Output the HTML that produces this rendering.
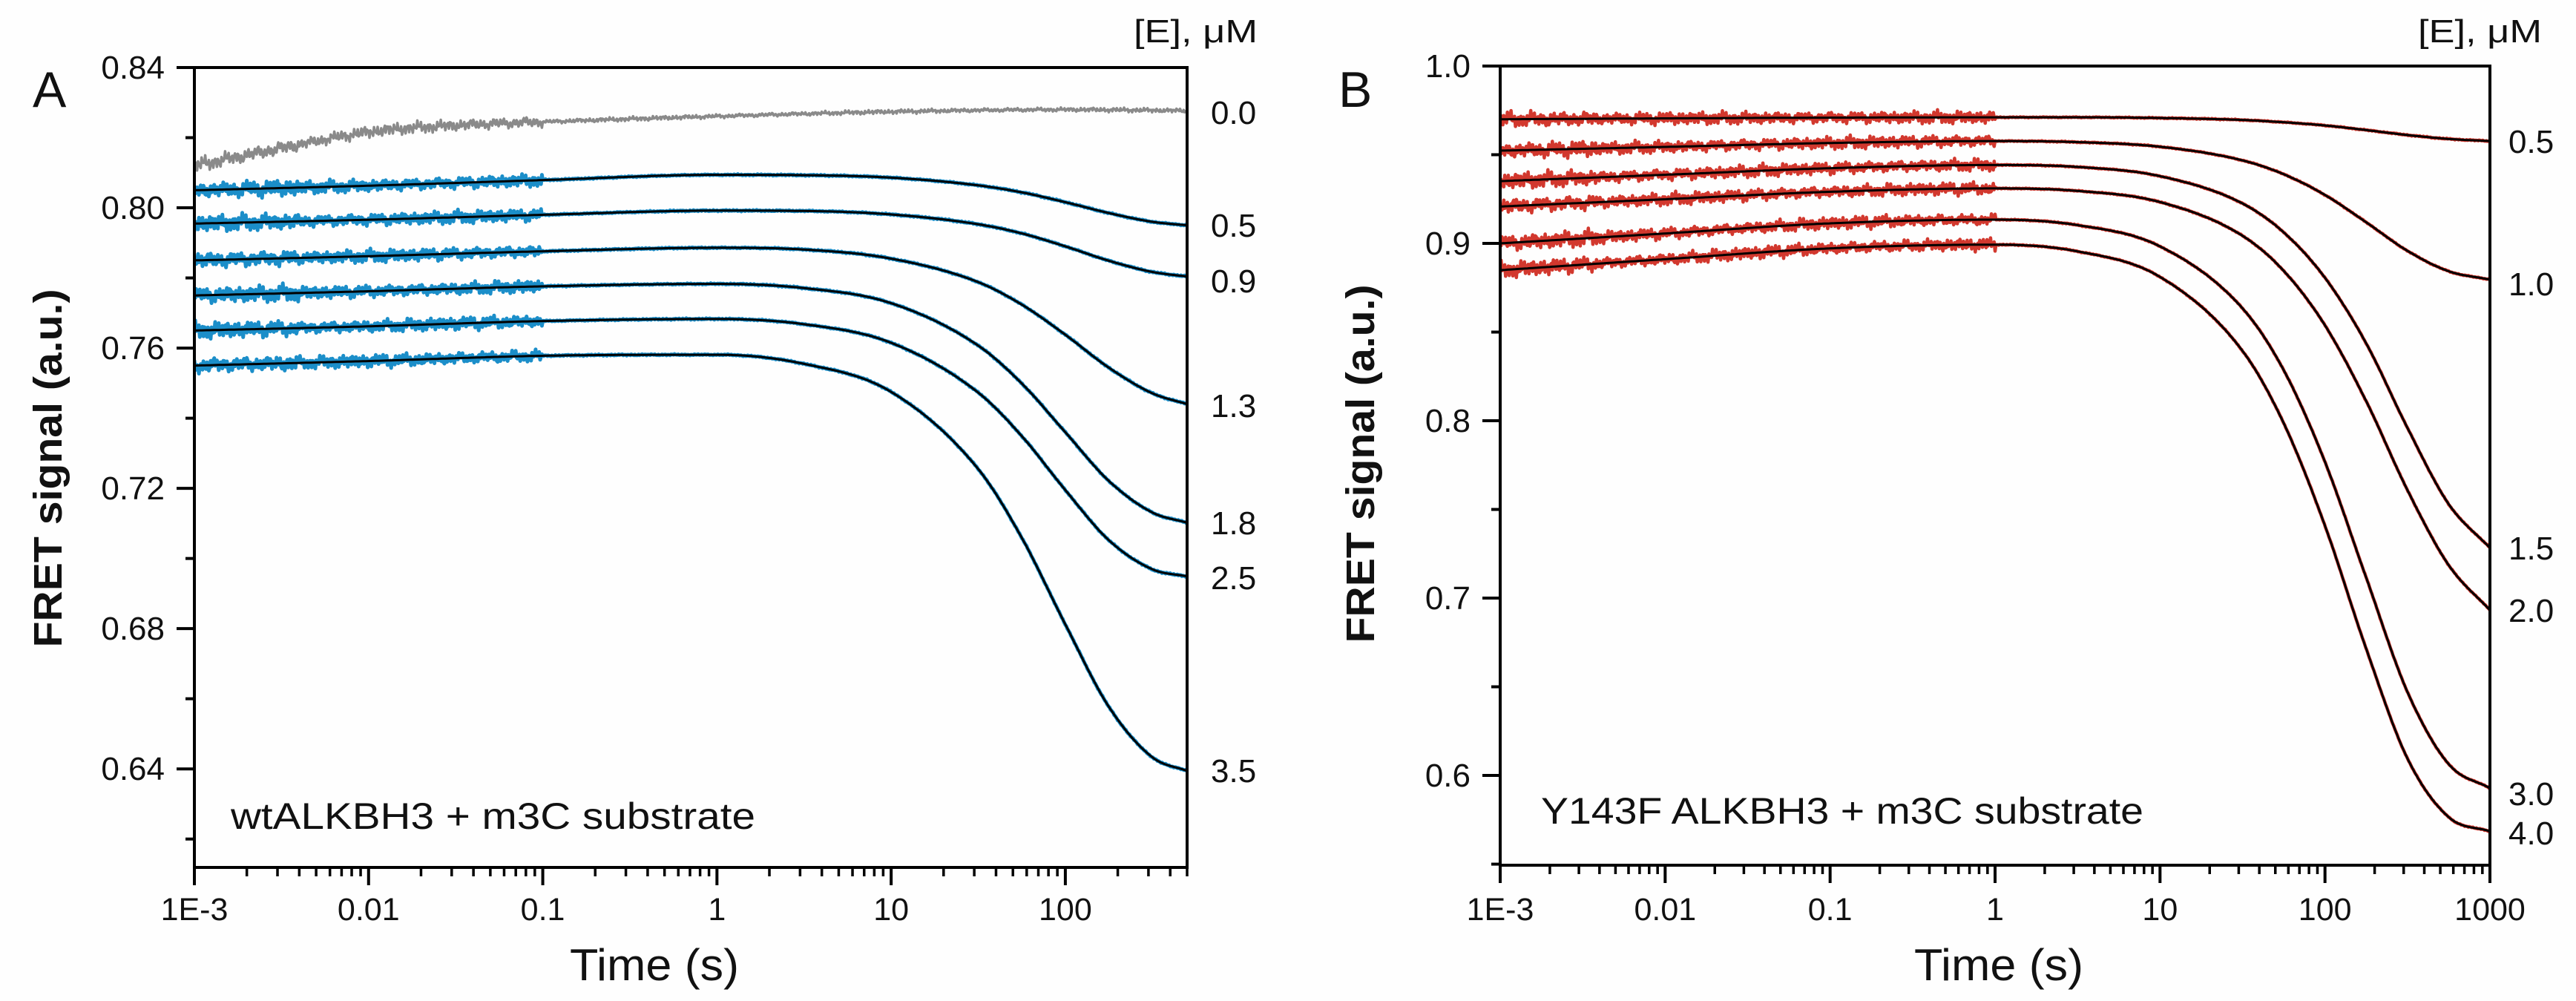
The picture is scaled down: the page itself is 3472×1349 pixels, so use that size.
<!DOCTYPE html>
<html><head><meta charset="utf-8"><style>
html,body{margin:0;padding:0;background:#fff;}
svg{display:block;font-family:"Liberation Sans",sans-serif;}
</style></head><body>
<svg id="fig" width="3472" height="1349" viewBox="0 0 3472 1349" xmlns="http://www.w3.org/2000/svg">
<rect x="0" y="0" width="3472" height="1349" fill="#fefefe"/>
<defs>
<clipPath id="clipA"><rect x="262" y="91" width="1338" height="1078"/></clipPath>
<clipPath id="clipB"><rect x="2022" y="89" width="1334" height="1077"/></clipPath>
</defs>
<g id="panelA"></g>
<g id="panelB"></g>
</svg>
<script>
// ---------- Panel A data ----------
const A_logT=[-3,-2,-1,0,0.5,1,1.5,1.75,2,2.25,2.5,2.7];
const A_c05=[.8050,.8063,.8079,.8094,.8093,.8086,.8064,.8044,.8016,.7985,.7960,.7950];
const A_c09=[.7955,.7966,.7980,.7992,.7991,.7981,.7953,.7927,.7890,.7849,.7817,.7804];
const A_c13=[.7850,.7862,.7876,.7886,.7881,.7855,.7788,.7724,.7638,.7544,.7471,.7440];
const A_c18=[.7750,.7762,.7776,.7783,.7771,.7728,.7607,.7499,.7360,.7221,.7131,.7102];
const A_c25=[.7650,.7662,.7677,.7683,.7668,.7615,.7473,.7349,.7195,.7052,.6969,.6949];
const A_c35=[.7550,.7563,.7578,.7581,.7555,.7475,.7255,.7059,.6812,.6577,.6433,.6394];
const A_grayLogT=[-3,-2.5,-2,-1.5,-1,0,1,2,2.7];
const A_gray=[.8120,.8170,.8216,.8235,.8245,.8261,.8274,.8280,.8277];
const A_concLabels=["0.0","0.5","0.9","1.3","1.8","2.5","3.5"];
const A_yTicks=[0.64,0.68,0.72,0.76,0.80,0.84];
const A_yTickLabels=["0.64","0.68","0.72","0.76","0.80","0.84"];
const A_xTicks=[-3,-2,-1,0,1,2];
const A_xTickLabels=["1E-3","0.01","0.1","1","10","100"];
// ---------- Panel B data ----------
const B_logT=[-3,-2,-1,0,0.5,1,1.5,1.75,2,2.25,2.5,2.75,3];
const B_c05=[.9700,.9705,.9709,.9711,.9711,.9707,.9696,.9683,.9665,.9639,.9611,.9589,.9577];
const B_c10=[.9523,.9544,.9566,.9577,.9571,.9545,.9468,.9390,.9273,.9119,.8958,.8843,.8796];
const B_c15=[.9351,.9387,.9424,.9442,.9431,.9379,.9225,.9062,.8806,.8436,.7960,.7530,.7283];
const B_c20=[.9208,.9249,.9291,.9310,.9296,.9233,.9043,.8845,.8538,.8110,.7609,.7186,.6932];
const B_c30=[.9000,.9056,.9113,.9134,.9103,.8983,.8634,.8285,.7768,.7115,.6471,.6064,.5928];
const B_c40=[.8849,.8911,.8972,.8993,.8955,.8811,.8394,.7986,.7408,.6714,.6096,.5765,.5685];
const B_concLabels=["0.5","1.0","1.5","2.0","3.0","4.0"];
const B_yTicks=[0.6,0.7,0.8,0.9,1.0];
const B_yTickLabels=["0.6","0.7","0.8","0.9","1.0"];
const B_xTicks=[-3,-2,-1,0,1,2,3];
const B_xTickLabels=["1E-3","0.01","0.1","1","10","100","1000"];

const NS="http://www.w3.org/2000/svg";
function mk(tag,attrs,parent){const e=document.createElementNS(NS,tag);for(const k in attrs)e.setAttribute(k,attrs[k]);if(parent)parent.appendChild(e);return e;}

function interp(xs,ys){
  const n=xs.length,d=[],m=[];
  for(let i=0;i<n-1;i++)d.push((ys[i+1]-ys[i])/(xs[i+1]-xs[i]));
  m[0]=d[0];m[n-1]=d[n-2];
  for(let i=1;i<n-1;i++){m[i]=(d[i-1]*d[i]<=0)?0:(d[i-1]+d[i])/2;}
  for(let i=0;i<n-1;i++){if(d[i]===0){m[i]=0;m[i+1]=0;continue;}const a=m[i]/d[i],b=m[i+1]/d[i],s=a*a+b*b;if(s>9){const t=3/Math.sqrt(s);m[i]=t*a*d[i];m[i+1]=t*b*d[i];}}
  return function(x){let i=0;while(i<n-2&&x>xs[i+1])i++;const h=xs[i+1]-xs[i],t=(x-xs[i])/h,t2=t*t,t3=t2*t;
    return (2*t3-3*t2+1)*ys[i]+(t3-2*t2+t)*h*m[i]+(-2*t3+3*t2)*ys[i+1]+(t3-t2)*h*m[i+1];};
}
function wig(i){return (Math.sin(i*1.71)+0.6*Math.sin(i*3.13+1)+0.5*Math.sin(i*0.53+2)+0.4*Math.sin(i*0.21))/2.0;}

function panel(cfg){
  const g=document.getElementById(cfg.id);
  const X=L=>cfg.x0+(L-cfg.Lmin)/(cfg.Lmax-cfg.Lmin)*(cfg.x1-cfg.x0);
  const Y=v=>cfg.y0+(cfg.vmax-v)/(cfg.vmax-cfg.vmin)*(cfg.y1-cfg.y0);
  const plot=mk('g',{'clip-path':'url(#'+cfg.clip+')'},g);
  
  
  cfg.series.forEach((s,si)=>{
    const f=interp(s.L,s.v);
    const Lend=s.L[s.L.length-1];
    let pts=[];const N=1100;
    for(let k=0;k<=N;k++){const L=cfg.Lmin+(Lend-cfg.Lmin)*k/N;let v=f(L);
      let a=0;
      if(L<=s.noiseEnd){a=s.noiseAmp*(L<cfg.Lmin+0.6?1.3:1);}
      else a=s.tailAmp;
      v+=a*wig(k+si*97);
      pts.push(X(L).toFixed(1)+','+Y(v).toFixed(1));}
    const tr=mk('polyline',{points:pts.join(' '),fill:'none',stroke:s.color,'stroke-width':s.dw,'stroke-linejoin':'round'},plot);
    
    
    if(s.fit){
      let fp=[];for(let k=0;k<=400;k++){const L=cfg.Lmin+(Lend-cfg.Lmin)*k/400;fp.push(X(L).toFixed(1)+','+Y(f(L)).toFixed(1));}
      const fl=mk('polyline',{points:fp.join(' '),fill:'none',stroke:'#000','stroke-width':3},plot);
      
      
    }
  });
  const fr=mk('rect',{x:cfg.x0,y:cfg.y0,width:cfg.x1-cfg.x0,height:cfg.y1-cfg.y0,fill:'none',stroke:'#000','stroke-width':4},g);
  
  
  cfg.yTicks.forEach((v,i)=>{
    const t=mk('line',{x1:cfg.x0-24,x2:cfg.x0,y1:Y(v),y2:Y(v),stroke:'#000','stroke-width':4},g);
    
    
    const tx=mk('text',{x:cfg.x0-40,y:Y(v)+15,'text-anchor':'end','font-size':44,fill:'#111'},g);
    tx.textContent=cfg.yTickLabels[i];
    
    
    if(i<cfg.yTicks.length-1){const mv=(v+cfg.yTicks[i+1])/2;
      const mt=mk('line',{x1:cfg.x0-12,x2:cfg.x0,y1:Y(mv),y2:Y(mv),stroke:'#000','stroke-width':4},g);
      
      }
  });
  const bm=cfg.yTicks[0]-(cfg.yTicks[1]-cfg.yTicks[0])/2;
  if(bm>cfg.vmin){const mt=mk('line',{x1:cfg.x0-12,x2:cfg.x0,y1:Y(bm),y2:Y(bm),stroke:'#000','stroke-width':4},g);
    
    }
  cfg.xTicks.forEach((L,i)=>{
    const t=mk('line',{x1:X(L),x2:X(L),y1:cfg.y1,y2:cfg.y1+24,stroke:'#000','stroke-width':4},g);
    
    
    const tx=mk('text',{x:X(L),y:1240,'text-anchor':'middle','font-size':43,fill:'#111'},g);
    tx.textContent=cfg.xTickLabels[i];
    
    
    for(let m=2;m<=9;m++){const Lm=L+Math.log10(m);if(Lm>cfg.Lmax+1e-6)break;
      const mt=mk('line',{x1:X(Lm),x2:X(Lm),y1:cfg.y1,y2:cfg.y1+12,stroke:'#000','stroke-width':3.5},g);
      
      }
  });
  const lt=mk('text',{x:cfg.letterX,y:144,'font-size':68,fill:'#111'},g);lt.textContent=cfg.letter;
  
  
  const yt=mk('text',{x:0,y:0,'font-size':54,'font-weight':'bold','text-anchor':'middle',fill:'#111',textLength:483,lengthAdjust:'spacingAndGlyphs',transform:'translate('+(cfg.ytX)+','+cfg.ytY+') rotate(-90)'},g);
  yt.textContent='FRET signal (a.u.)';
  
  
  const xt=mk('text',{x:cfg.xtX,y:1321,'font-size':60,'text-anchor':'middle',fill:'#111',textLength:228,lengthAdjust:'spacingAndGlyphs'},g);
  xt.textContent='Time (s)';
  
  
  const an=mk('text',{x:cfg.annX,y:cfg.annY,'font-size':50,fill:'#111',textLength:cfg.annW,lengthAdjust:'spacingAndGlyphs'},g);
  an.textContent=cfg.ann;
  
  
  const eh=mk('text',{x:cfg.ehX,y:57,'font-size':44,fill:'#111',textLength:167,lengthAdjust:'spacingAndGlyphs'},g);
  eh.textContent='[E], μM';
  
  
  cfg.concLabels.forEach((c,i)=>{
    const t=mk('text',{x:cfg.concX,y:cfg.concY[i],'font-size':44,fill:'#111'},g);
    t.textContent=c;
    
    
  });
}

const blue='#1b8ec9', red='#d2382e', gray='#8a8a8a';
panel({id:'panelA',clip:'clipA',x0:262,x1:1600,y0:91,y1:1169,Lmin:-3,Lmax:Math.log10(500),vmin:0.6119,vmax:0.84,
  yTicks:A_yTicks,yTickLabels:A_yTickLabels,xTicks:A_xTicks,xTickLabels:A_xTickLabels,
  letter:'A',letterX:44,ytX:83,ytY:631,xtX:882,ann:'wtALKBH3 + m3C substrate',annX:311,annY:1117,annW:707,ehX:1528,
  concLabels:A_concLabels,concX:1632,concY:[167,319,394,562,720,794,1054],
  series:[
    {name:'trace-0.0',L:A_grayLogT,v:A_gray,color:gray,dw:3.5,fit:false,noiseEnd:-1,noiseAmp:0.0017,tailAmp:0.0006},
    {name:'trace-0.5',L:A_logT,v:A_c05,color:blue,dw:5,fit:true,noiseEnd:-1,noiseAmp:0.0018,tailAmp:0.0002},
    {name:'trace-0.9',L:A_logT,v:A_c09,color:blue,dw:5,fit:true,noiseEnd:-1,noiseAmp:0.0018,tailAmp:0.0002},
    {name:'trace-1.3',L:A_logT,v:A_c13,color:blue,dw:5,fit:true,noiseEnd:-1,noiseAmp:0.0018,tailAmp:0.0002},
    {name:'trace-1.8',L:A_logT,v:A_c18,color:blue,dw:5,fit:true,noiseEnd:-1,noiseAmp:0.0018,tailAmp:0.0002},
    {name:'trace-2.5',L:A_logT,v:A_c25,color:blue,dw:5,fit:true,noiseEnd:-1,noiseAmp:0.0018,tailAmp:0.0002},
    {name:'trace-3.5',L:A_logT,v:A_c35,color:blue,dw:5,fit:true,noiseEnd:-1,noiseAmp:0.0018,tailAmp:0.0002}
  ]});
panel({id:'panelB',clip:'clipB',x0:2022,x1:3356,y0:89,y1:1166,Lmin:-3,Lmax:3,vmin:0.5494,vmax:1.0,
  yTicks:B_yTicks,yTickLabels:B_yTickLabels,xTicks:B_xTicks,xTickLabels:B_xTickLabels,
  letter:'B',letterX:1804,ytX:1852,ytY:625,xtX:2694,ann:'Y143F ALKBH3 + m3C substrate',annX:2077,annY:1110,annW:812,ehX:3259,
  concLabels:B_concLabels,concX:3381,concY:[206,398,754,838,1085,1138],
  series:[
    {name:'trace-0.5',L:B_logT,v:B_c05,color:red,dw:4.5,fit:true,noiseEnd:0,noiseAmp:0.0035,tailAmp:0.0003},
    {name:'trace-1.0',L:B_logT,v:B_c10,color:red,dw:4.5,fit:true,noiseEnd:0,noiseAmp:0.0035,tailAmp:0.0003},
    {name:'trace-1.5',L:B_logT,v:B_c15,color:red,dw:4.5,fit:true,noiseEnd:0,noiseAmp:0.0035,tailAmp:0.0003},
    {name:'trace-2.0',L:B_logT,v:B_c20,color:red,dw:4.5,fit:true,noiseEnd:0,noiseAmp:0.0035,tailAmp:0.0003},
    {name:'trace-3.0',L:B_logT,v:B_c30,color:red,dw:4.5,fit:true,noiseEnd:0,noiseAmp:0.0035,tailAmp:0.0003},
    {name:'trace-4.0',L:B_logT,v:B_c40,color:red,dw:4.5,fit:true,noiseEnd:0,noiseAmp:0.0035,tailAmp:0.0003}
  ]});
</script>
</body></html>
